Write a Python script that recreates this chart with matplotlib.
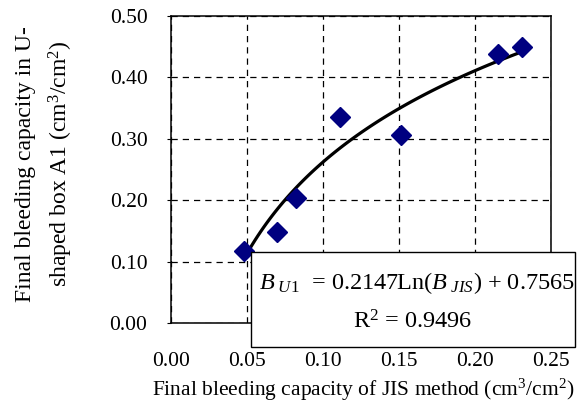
import matplotlib
matplotlib.use("Agg")
import matplotlib.pyplot as plt
from matplotlib.patches import Rectangle
import numpy as np

b_jis = [0.048, 0.070, 0.082, 0.111, 0.151, 0.215, 0.231]
b_u1 = [0.118, 0.149, 0.204, 0.335, 0.306, 0.438, 0.450]

# log trendline shown in the box
slope = 0.2147
intercept = 0.7565
r2 = 0.9496

xticks = [0.00, 0.05, 0.10, 0.15, 0.20, 0.25]
yticks = [0.00, 0.10, 0.20, 0.30, 0.40, 0.50]

plt.rcParams['font.family'] = ['Liberation Serif', 'DejaVu Serif']
plt.rcParams['mathtext.fontset'] = 'custom'
plt.rcParams['mathtext.rm'] = 'Liberation Serif'
plt.rcParams['mathtext.it'] = 'Liberation Serif:italic'

W, H = 585, 408
fig = plt.figure(figsize=(5.85, 4.08), dpi=100)
ax = fig.add_axes([171 / W, 1 - 323 / H, (551 - 171) / W, (323 - 16) / H])

xfit = np.linspace(min(b_jis), max(b_jis), 100)
yfit = slope * np.log(xfit) + intercept
ax.plot(xfit, yfit, color='black', lw=2.3, zorder=3)
ax.plot(b_jis, b_u1, 'D', color='#000080', ms=10, zorder=4)

ax.set_xlim(0, 0.25)
ax.set_ylim(0, 0.5)
ax.set_xticks(xticks)
ax.set_yticks(yticks)
ax.set_xticklabels(['%.2f' % v for v in xticks], fontsize=15.5)
ax.set_yticklabels(['%.2f' % v for v in yticks], fontsize=15.5)
ax.tick_params(axis='x', length=0, pad=21)
ax.tick_params(axis='y', length=3, direction='out', pad=14)
ax.grid(True, color='black', linestyle=(0, (5, 4)), lw=0.9)
for s in ax.spines.values():
    s.set_linewidth(1.1)

# axis titles
fig.text(363 / W, 1 - 390 / H, 'Final bleeding capacity of JIS method (cm$^3$/cm$^2$)',
         fontsize=15.5, ha='center', va='center')
fig.text(45 / W, 1 - 164 / H, 'Final bleeding capacity in U-\nshaped box A1 (cm$^3$/cm$^2$)',
         fontsize=17, ha='center', va='center', rotation=90, multialignment='center',
         linespacing=1.5)

# equation box, sits partly outside the plot area
fig.patches.append(Rectangle((251 / W, 1 - 347 / H), (575 - 251) / W, (347 - 252) / H,
                             transform=fig.transFigure, fc='white', ec='black', lw=1, zorder=5))
fig.text(417 / W, 1 - 283 / H,
         '$B_{\\ U1}$  = %.4fLn($B_{\\ JIS}$) + %.4f' % (slope, intercept),
         fontsize=17.5, ha='center', va='center', zorder=6)
fig.text(413 / W, 1 - 322 / H, 'R$^2$ = %.4f' % r2,
         fontsize=17.5, ha='center', va='center', zorder=6)

fig.savefig('out.png', dpi=100)
